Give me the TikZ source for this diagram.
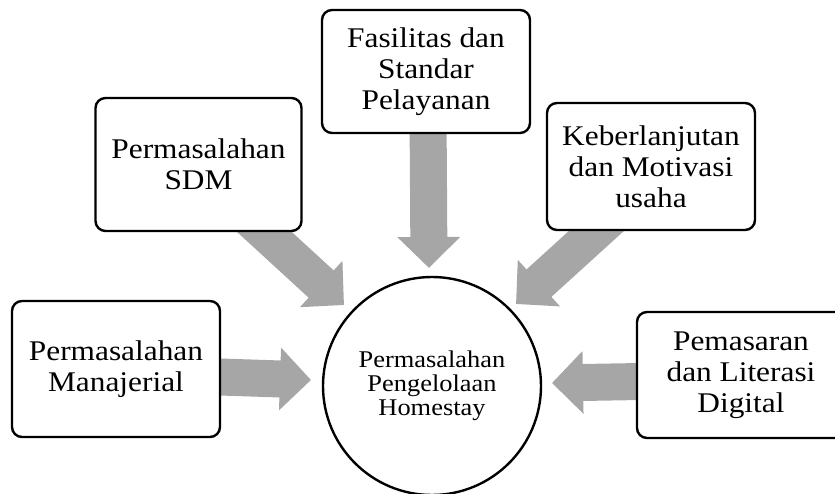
\documentclass[tikz,border=0pt]{standalone}
\usepackage{fontspec}
\setmainfont[FakeStretch=1.1]{Liberation Serif}
\usetikzlibrary{arrows.meta,backgrounds}
\definecolor{arrowgray}{RGB}{166,166,166}
\begin{document}
\begin{tikzpicture}[x=1pt,y=-1pt,
  box/.style={draw, line width=2.4pt, rounded corners=10pt, fill=white, align=center, inner sep=0pt, font=\fontsize{28.5}{31}\selectfont},
  hub/.style={draw, circle, line width=2.4pt, fill=white, minimum size=218pt, inner sep=0pt, align=center, font=\fontsize{24}{24}\selectfont},
  fat/.style={draw=arrowgray, fill=arrowgray, line width=37pt, -{Triangle[width=61pt,length=31pt]}}]
\useasboundingbox (0,0) rectangle (835,494);
\clip (0,0) rectangle (835,494);
\node[box, minimum width=208pt, minimum height=123pt] (fas) at (426,71.5) {Fasilitas dan\\Standar\\Pelayanan};
\node[box, minimum width=206pt, minimum height=133pt] (sdm) at (198.5,164.5) {Permasalahan\\SDM};
\node[box, minimum width=208pt, minimum height=127pt] (keb) at (651,166.5) {Keberlanjutan\\dan Motivasi\\usaha};
\node[box, minimum width=208pt, minimum height=136pt] (man) at (116,369) {Permasalahan\\Manajerial};
\node[box, minimum width=208pt, minimum height=126pt] (pem) at (741,375) {Pemasaran\\dan Literasi\\Digital};
\node[hub] (hub) at (432,386) {Permasalahan\\Pengelolaan\\Homestay};
\coordinate (sF) at (428,110);
\coordinate (tF) at (429,268);
\coordinate (sS) at (235,205);
\coordinate (tS) at (344,305);
\coordinate (sK) at (625,205);
\coordinate (tK) at (516,304);
\coordinate (sM) at (190,376);
\coordinate (tM) at (311,380);
\coordinate (sP) at (670,381);
\coordinate (tP) at (552,383);
\begin{pgfonlayer}{background}
\draw[fat] (sF) -- (tF);
\draw[fat] (sS) -- (tS);
\draw[fat] (sK) -- (tK);
\draw[fat] (sM) -- (tM);
\draw[fat] (sP) -- (tP);
\end{pgfonlayer}
\end{tikzpicture}
\end{document}
